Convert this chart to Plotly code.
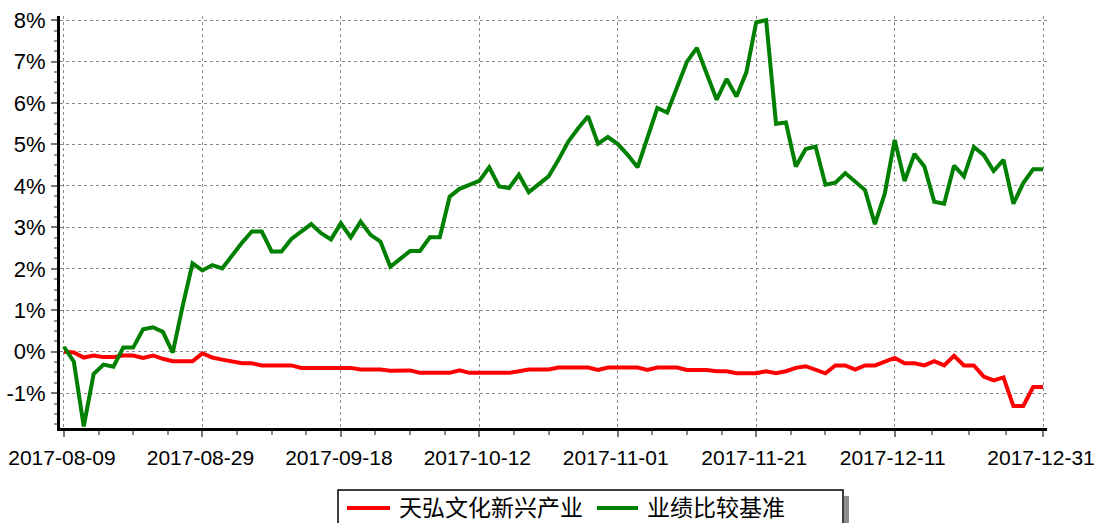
import plotly.graph_objects as go

dates = [
    "2017-08-09", "2017-08-10", "2017-08-11", "2017-08-14", "2017-08-15", "2017-08-16", "2017-08-17",
    "2017-08-18", "2017-08-21", "2017-08-22", "2017-08-23", "2017-08-24", "2017-08-25", "2017-08-28",
    "2017-08-29", "2017-08-30", "2017-08-31", "2017-09-01", "2017-09-04", "2017-09-05", "2017-09-06",
    "2017-09-07", "2017-09-08", "2017-09-11", "2017-09-12", "2017-09-13", "2017-09-14", "2017-09-15",
    "2017-09-18", "2017-09-19", "2017-09-20", "2017-09-21", "2017-09-22", "2017-09-25", "2017-09-26",
    "2017-09-27", "2017-09-28", "2017-09-29", "2017-09-30", "2017-10-09", "2017-10-10", "2017-10-11",
    "2017-10-12", "2017-10-13", "2017-10-16", "2017-10-17", "2017-10-18", "2017-10-19", "2017-10-20",
    "2017-10-23", "2017-10-24", "2017-10-25", "2017-10-26", "2017-10-27", "2017-10-30", "2017-10-31",
    "2017-11-01", "2017-11-02", "2017-11-03", "2017-11-06", "2017-11-07", "2017-11-08", "2017-11-09",
    "2017-11-10", "2017-11-13", "2017-11-14", "2017-11-15", "2017-11-16", "2017-11-17", "2017-11-20",
    "2017-11-21", "2017-11-22", "2017-11-23", "2017-11-24", "2017-11-27", "2017-11-28", "2017-11-29",
    "2017-11-30", "2017-12-01", "2017-12-04", "2017-12-05", "2017-12-06", "2017-12-07", "2017-12-08",
    "2017-12-11", "2017-12-12", "2017-12-13", "2017-12-14", "2017-12-15", "2017-12-18", "2017-12-19",
    "2017-12-20", "2017-12-21", "2017-12-22", "2017-12-25", "2017-12-26", "2017-12-27", "2017-12-28",
    "2017-12-29", "2017-12-31",
]

fund_name = "天弘文化新兴产业"
bench_name = "业绩比较基准"

fund = [
    0.00, -0.02, -0.14, -0.09, -0.13, -0.13, -0.09, -0.09, -0.15, -0.09,
    -0.17, -0.23, -0.23, -0.23, -0.04, -0.14, -0.19, -0.23, -0.28, -0.28,
    -0.33, -0.33, -0.33, -0.33, -0.39, -0.39, -0.39, -0.39, -0.39, -0.39,
    -0.43, -0.43, -0.43, -0.46, -0.45, -0.45, -0.51, -0.51, -0.51, -0.51,
    -0.45, -0.51, -0.51, -0.51, -0.51, -0.51, -0.47, -0.43, -0.43, -0.43,
    -0.38, -0.38, -0.38, -0.38, -0.44, -0.38, -0.38, -0.38, -0.38, -0.44,
    -0.38, -0.38, -0.38, -0.44, -0.44, -0.44, -0.47, -0.47, -0.52, -0.52,
    -0.52, -0.47, -0.52, -0.47, -0.39, -0.35, -0.43, -0.52, -0.33, -0.33,
    -0.43, -0.33, -0.33, -0.23, -0.15, -0.28, -0.28, -0.33, -0.23, -0.33,
    -0.10, -0.33, -0.33, -0.60, -0.69, -0.62, -1.31, -1.31, -0.85, -0.85,
]

bench = [
    0.12, -0.24, -1.80, -0.54, -0.31, -0.36, 0.10, 0.10, 0.54, 0.59,
    0.48, -0.02, 1.10, 2.13, 1.96, 2.09, 2.01, 2.32, 2.63, 2.90,
    2.90, 2.42, 2.42, 2.72, 2.90, 3.08, 2.86, 2.71, 3.10, 2.76,
    3.14, 2.82, 2.66, 2.05, 2.24, 2.43, 2.43, 2.76, 2.76, 3.74,
    3.93, 4.03, 4.12, 4.45, 3.99, 3.95, 4.27, 3.85, 4.04, 4.23,
    4.63, 5.07, 5.39, 5.68, 5.02, 5.18, 5.01, 4.75, 4.45, 5.19,
    5.88, 5.77, 6.38, 7.00, 7.33, 6.71, 6.08, 6.58, 6.16, 6.74,
    7.95, 8.00, 5.50, 5.53, 4.47, 4.89, 4.95, 4.03, 4.08, 4.31,
    4.12, 3.90, 3.08, 3.82, 5.11, 4.12, 4.77, 4.47, 3.62, 3.57,
    4.49, 4.23, 4.94, 4.75, 4.36, 4.63, 3.57, 4.07, 4.40, 4.40,
]

tick_labels = ["2017-08-09", "2017-08-29", "2017-09-18", "2017-10-12",
               "2017-11-01", "2017-11-21", "2017-12-11", "2017-12-31"]
y_ticks = [-1, 0, 1, 2, 3, 4, 5, 6, 7, 8]

# ---------------------------------------------------------------------------
W, H = 1096, 523
ML, MR, MT, MB = 60, 49, 16, 95
PW, PH = W - ML - MR, H - MT - MB


def px(xp):
    return (xp - ML) / PW


def py(yp):
    return (H - MB - yp) / PH


x_idx = list(range(len(dates)))
tick_pos = [dates.index(t) for t in tick_labels]
minor_pos = []
for a, b in zip(tick_pos[:-1], tick_pos[1:]):
    for k in range(1, 4):
        minor_pos.append(a + (b - a) * k / 4)

FONT = "Liberation Sans, Arial, Noto Sans CJK SC, sans-serif"
CJK = "Noto Sans CJK SC, Liberation Sans, sans-serif"
RED, GREEN = "#FF0000", "#008000"

fig = go.Figure()
fig.add_trace(go.Scatter(x=x_idx, y=fund, name=fund_name, mode="lines",
                         line=dict(color=RED, width=4), customdata=dates,
                         hovertemplate="%{customdata}: %{y:.2f}%<extra></extra>"))
fig.add_trace(go.Scatter(x=x_idx, y=bench, name=bench_name, mode="lines",
                         line=dict(color=GREEN, width=4), customdata=dates,
                         hovertemplate="%{customdata}: %{y:.2f}%<extra></extra>"))

fig.update_layout(
    width=W, height=H,
    margin=dict(l=ML, r=MR, t=MT, b=MB, autoexpand=False),
    paper_bgcolor="white", plot_bgcolor="white",
    font=dict(family=FONT, size=22, color="black"),
    showlegend=False,
    xaxis=dict(
        range=[-0.4, 99.4], tickmode="array", tickvals=tick_pos, ticktext=tick_labels,
        showgrid=True, gridcolor="#8a8a8a", griddash="dot", gridwidth=1.2,
        showline=True, linecolor="black", linewidth=3, zeroline=False,
        ticks="outside", ticklen=6, tickcolor="#777", tickwidth=1.5,
        ticklabelstandoff=3, ticklabeloverflow="allow", ticklabelshift=-2,
        minor=dict(tickmode="array", tickvals=minor_pos, ticks="outside", ticklen=4,
                   tickcolor="#888", showgrid=False),
        tickfont=dict(size=21),
    ),
    yaxis=dict(
        range=[-1.84, 8.1], tickmode="array", tickvals=y_ticks,
        ticktext=[f"{v}%" for v in y_ticks],
        showgrid=True, gridcolor="#8a8a8a", griddash="dot", gridwidth=1.2,
        showline=True, linecolor="black", linewidth=3, zeroline=False,
        ticks="outside", ticklen=6, tickcolor="#777", tickwidth=1.5,
        ticklabelstandoff=1,
        minor=dict(dtick=0.25, tick0=0, ticks="outside", ticklen=3,
                   tickcolor="#999", showgrid=False),
        tickfont=dict(size=22),
    ),
)

# ---- legend box (drawn by hand to match the reference layout) ----
box_l, box_r, box_t, box_b = 338, 843, 490, 540
fig.add_shape(type="rect", xref="paper", yref="paper",
              x0=px(box_r + 1), x1=px(box_r + 6), y0=py(box_b), y1=py(box_t + 6),
              fillcolor="#8c8c8c", line=dict(width=0))
fig.add_shape(type="rect", xref="paper", yref="paper",
              x0=px(box_l), x1=px(box_r), y0=py(box_b), y1=py(box_t),
              fillcolor="white", line=dict(color="black", width=1.5))
legend_items = [(fund_name, RED, 347, 390, 398), (bench_name, GREEN, 597, 638, 646)]
for name, color, l0, l1, tx in legend_items:
    fig.add_shape(type="line", xref="paper", yref="paper",
                  x0=px(l0), x1=px(l1), y0=py(508), y1=py(508),
                  line=dict(color=color, width=4))
    fig.add_annotation(xref="paper", yref="paper", x=px(tx), y=py(505.5),
                       xanchor="left", yanchor="middle", showarrow=False,
                       borderpad=0,
                       text=name, font=dict(family=CJK, size=23, color="black"))

fig.write_html("out.html", config={"displayModeBar": False},
               post_script="document.body.style.margin='0';")
